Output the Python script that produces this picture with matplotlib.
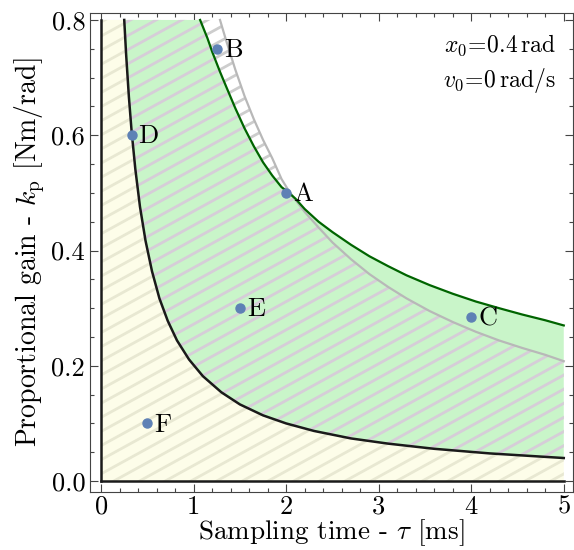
import numpy as np
import matplotlib
matplotlib.use("Agg")
import matplotlib.pyplot as plt
from matplotlib.collections import LineCollection
from matplotlib.path import Path

plt.rcParams['font.family'] = ['cmr10', 'DejaVu Serif']
plt.rcParams['mathtext.fontset'] = 'cm'
plt.rcParams['axes.formatter.use_mathtext'] = True

# lower stability bound (black)
tau_black = [0.25, 0.27, 0.30, 0.33, 0.37, 0.42, 0.48, 0.55, 0.63, 0.72, 0.82,
             0.95, 1.10, 1.30, 1.50, 1.75, 2.00, 2.30, 2.70, 3.10, 3.60, 4.20, 5.00]
k_black = [0.800, 0.741, 0.667, 0.606, 0.541, 0.476, 0.417, 0.364, 0.317, 0.278, 0.244,
           0.211, 0.182, 0.154, 0.133, 0.114, 0.100, 0.087, 0.074, 0.065, 0.056, 0.048, 0.040]

# upper bounds (green and gray) on a shared tau grid
tau_up = [1.07, 1.15, 1.20, 1.285, 1.35, 1.45, 1.55, 1.65, 1.75, 1.85, 1.95, 2.03, 2.10,
          2.20, 2.35, 2.50, 2.70, 2.90, 3.10, 3.30, 3.55, 3.80, 4.05, 4.30, 4.55, 4.80, 5.00]
k_green = [0.800, 0.768, 0.745, 0.710, 0.685, 0.647, 0.612, 0.581, 0.553, 0.530, 0.510, 0.500, 0.490,
           0.472, 0.450, 0.432, 0.410, 0.390, 0.373, 0.357, 0.340, 0.325, 0.3115, 0.300, 0.289, 0.279, 0.270]
k_gray = [np.nan, np.nan, np.nan, 0.800, 0.765, 0.714, 0.668, 0.628, 0.592, 0.560, 0.524, 0.503, 0.488,
          0.467, 0.440, 0.414, 0.385, 0.359, 0.337, 0.317, 0.295, 0.276, 0.259, 0.244, 0.231, 0.219, 0.208]

pt_names = ['A', 'B', 'C', 'D', 'E', 'F']
pt_tau = [2.0, 1.25, 4.0, 0.33, 1.5, 0.5]
pt_k = [0.5, 0.75, 0.285, 0.6, 0.3, 0.1]

tb, kb = np.array(tau_black), np.array(k_black)
tu, kg, kr = np.array(tau_up), np.array(k_green), np.array(k_gray)
ok = ~np.isnan(kr)

fig = plt.figure(figsize=(5.74, 5.5), dpi=100)
ax = fig.add_axes([0.1568, 0.1054, 0.8415, 0.8709])
ax.set_xlim(-0.12, 5.1)
ax.set_ylim(-0.019, 0.812)

# polygons
beige_poly = np.vstack([[[0, 0], [0, 0.8]], np.column_stack([tb, kb]), [[5, 0]]])
green_poly = np.vstack([np.column_stack([tb, kb]), np.column_stack([tu, kg])[::-1]])
kmin = np.fmin(kg, kr)
lav_poly = np.vstack([np.column_stack([tb, kb]), np.column_stack([tu, kmin])[::-1]])
gray_poly = np.vstack([[[0, 0], [0, 0.8]], np.column_stack([tu[ok], kr[ok]]), [[5, 0]]])

# hatch lines
slope = 0.55 * 92.6 / 577.5
offs = np.arange(-0.6, 0.85, 0.0245)
segs = [[(-0.2, b - 0.2 * slope), (5.2, b + 5.2 * slope)] for b in offs]


def hatch(poly, color, z):
    lc = LineCollection(segs, colors=color, linewidths=2.0, zorder=z)
    ax.add_collection(lc)
    lc.set_clip_path(Path(poly), ax.transData)


hatch(gray_poly, '#cdcdcd', 1)
ax.fill(beige_poly[:, 0], beige_poly[:, 1], color='#fdfde9', lw=0, zorder=2)
hatch(beige_poly, '#e8e8d2', 3)
ax.fill(green_poly[:, 0], green_poly[:, 1], color='#c9f5c9', lw=0, zorder=2)
hatch(lav_poly, '#d6cdd8', 3)

ax.plot(tu, kr, color='#b8b8b8', lw=1.6, zorder=4)
ax.plot(tu, kg, color='#006400', lw=1.6, zorder=4)
ax.plot(tb, kb, color='#1a1a1a', lw=1.8, zorder=4)
ax.plot([0, 0], [0, 0.8], color='#1a1a1a', lw=1.8, zorder=4)
ax.plot([0, 5], [0, 0], color='#1a1a1a', lw=1.8, zorder=4)

ax.plot(pt_tau, pt_k, 'o', color='#5e81b5', ms=6.5, zorder=5)
for n, x, y in zip(pt_names, pt_tau, pt_k):
    ax.annotate(n, (x, y), xytext=(5, -1), textcoords='offset points',
                ha='left', va='center', fontsize=19, zorder=6)

ax.text(0.965, 0.96, r'$x_0\!=\!0.4\,\mathrm{rad}$', transform=ax.transAxes,
        ha='right', va='top', fontsize=17)
ax.text(0.965, 0.89, r'$v_0\!=\!0\,\mathrm{rad/s}$', transform=ax.transAxes,
        ha='right', va='top', fontsize=17)

ax.set_xticks([0, 1, 2, 3, 4, 5])
ax.set_xticks(np.arange(0, 5.01, 0.2), minor=True)
ax.set_yticks([0.0, 0.2, 0.4, 0.6, 0.8])
ax.set_yticks(np.arange(0, 0.801, 0.05), minor=True)
ax.set_xticklabels(['0', '1', '2', '3', '4', '5'])
ax.set_yticklabels(['0.0', '0.2', '0.4', '0.6', '0.8'])
ax.tick_params(which='both', direction='in', top=True, right=True, color='#444444',
               labelsize=19, width=0.8)
ax.tick_params(which='major', length=6)
ax.tick_params(which='minor', length=3)
ax.tick_params(axis='x', which='major', pad=2)
for s in ax.spines.values():
    s.set_color('#444444')
    s.set_linewidth(0.8)

ax.set_xlabel(r'Sampling time - $\tau$ [ms]', fontsize=19.5, labelpad=-1)
ax.set_ylabel(r'Proportional gain - $k_\mathrm{p}$ [Nm/rad]', fontsize=20, labelpad=3)

fig.savefig('out.png', dpi=100)
